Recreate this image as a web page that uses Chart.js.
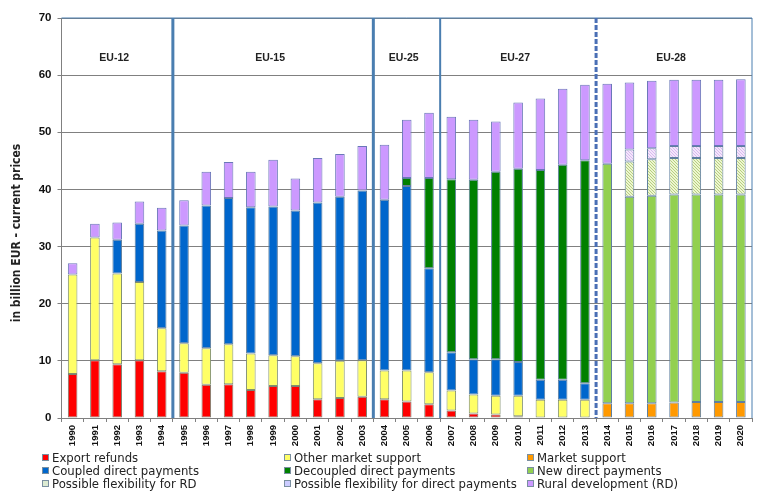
<!DOCTYPE html>
<html lang="en">
<head>
  <meta charset="UTF-8" />
  <title>CAP expenditure</title>
  <script src="https://cdn.jsdelivr.net/npm/chart.js"></script>
  <style>
    * { margin: 0; padding: 0; box-sizing: border-box; }
    html, body { width: 761px; height: 496px; background: #fff; overflow: hidden; }
    #wrap { position: relative; width: 761px; height: 496px; }
    canvas { display: block; }
    #legend {
      position: absolute;
      left: 42px;
      top: 451px;
      display: grid;
      grid-template-columns: 242px 243px 220px;
      grid-auto-rows: 13px;
      font: 11.7px 'DejaVu Sans', sans-serif;
      color: #222;
    }
    #legend div { display: flex; align-items: center; white-space: nowrap; }
    #legend i { display: block; width: 7px; height: 7px; margin-right: 3px; border: 1px solid #7a8fa0; }
  </style>
</head>
<body>
  <div id="wrap">
    <canvas id="chart" width="761" height="496"></canvas>
    <div id="legend"></div>
  </div>

  <script>
    const years = ['1990','1991','1992','1993','1994','1995','1996','1997','1998','1999','2000',
      '2001','2002','2003','2004','2005','2006','2007','2008','2009','2010','2011','2012','2013',
      '2014','2015','2016','2017','2018','2019','2020'];

    const exportRefunds = [7.7,10.1,9.4,10.1,8.2,7.9,5.8,5.9,4.9,5.6,5.6,3.3,3.5,3.7,3.3,2.9,2.4,1.3,0.8,0.6,0.3,0.1,0.1,null,
      null,null,null,null,null,null,null];
    const otherMarketSupport = [17.4,21.5,15.9,13.7,7.5,5.2,6.4,7.0,6.4,5.4,5.2,6.3,6.5,6.4,5.0,5.4,5.6,3.5,3.3,3.3,3.6,3.1,3.1,3.2,
      null,null,null,null,null,null,null];
    const marketSupport = [null,null,null,null,null,null,null,null,null,null,null,null,null,null,null,null,null,null,null,null,null,null,null,null,
      2.6,2.6,2.6,2.7,2.8,2.8,2.8];
    const coupledPayments = [null,null,5.9,10.2,17.1,20.6,25.0,25.6,25.6,26.0,25.5,28.1,28.7,29.7,29.9,32.3,18.2,6.7,6.2,6.4,5.9,3.5,3.5,2.9,
      null,null,null,null,null,null,null];
    const decoupledPayments = [null,null,null,null,null,null,null,null,null,null,null,null,null,null,null,
      1.4,15.8,30.3,31.4,32.8,33.8,36.7,37.6,39.0,
      null,null,null,null,null,null,null];
    const newPayments = [null,null,null,null,null,null,null,null,null,null,null,null,null,null,null,null,null,null,null,null,null,null,null,null,
      41.9,36.1,36.3,36.4,36.3,36.3,36.3];
    const flexForRd = [null,null,null,null,null,null,null,null,null,null,null,null,null,null,null,null,null,null,null,null,null,null,null,null,null,
      6.2,6.4,6.4,6.4,6.4,6.4];
    const flexForPayments = [null,null,null,null,null,null,null,null,null,null,null,null,null,null,null,null,null,null,null,null,null,null,null,null,null,
      2.1,1.9,2.1,2.1,2.1,2.1];
    const ruralDevelopment = [2.0,2.4,3.0,3.9,4.0,4.4,5.9,6.3,6.2,8.2,5.6,7.8,7.5,7.8,9.6,10.2,11.4,10.9,10.5,8.8,11.6,12.5,13.3,13.2,
      14.0,11.7,11.8,11.6,11.6,11.6,11.7];

    const eraNames = ['EU-12','EU-15','EU-25','EU-27','EU-28'];
    const eraFirstYears = ['1990','1995','2004','2007','2014'];
    const yTicks = [0,10,20,30,40,50,60,70];

    const axisGrey = '#808080';
    const frameBlue = '#4a7eb0';

    // diagonal stripes for the two "possible flexibility" series
    function stripes(back, line) {
      const c = document.createElement('canvas');
      c.width = 3;
      c.height = 3;
      const x = c.getContext('2d');
      x.fillStyle = back;
      x.fillRect(0, 0, 3, 3);
      x.fillStyle = line;
      x.fillRect(0, 0, 1, 1);
      x.fillRect(1, 1, 1, 1);
      x.fillRect(2, 2, 1, 1);
      return x.createPattern(c, 'repeat');
    }

    function bar(label, data, color, border) {
      return {
        label, data,
        backgroundColor: color,
        borderColor: border || '#5f7f9f',
        borderWidth: 1,
        borderSkipped: false,
        stack: 'cap',
        categoryPercentage: 1,
        barPercentage: 0.43
      };
    }

    const series = [
      bar('Export refunds', exportRefunds, '#ff0000', '#7f7f6f'),
      bar('Other market support', otherMarketSupport, '#ffff66', '#7f8f6f'),
      bar('Market support', marketSupport, '#ff9900'),
      bar('Coupled direct payments', coupledPayments, '#0066cc'),
      bar('Decoupled direct payments', decoupledPayments, '#008000'),
      bar('New direct payments', newPayments, '#92d050'),
      bar('Possible flexibility for RD', flexForRd, stripes('#eef5d0', '#b4d080')),
      bar('Possible flexibility for direct payments', flexForPayments, stripes('#f3e6fa', '#d8b8f0')),
      bar('Rural development (RD)', ruralDevelopment, '#cc99ff', '#6a78b8')
    ];

    // era separators, era names, the blue frame and the y axis title
    const decorations = {
      id: 'decorations',
      beforeDatasetsDraw(chart) {
        const { ctx, chartArea: a, scales: { x } } = chart;
        const half = (x.getPixelForTick(1) - x.getPixelForTick(0)) / 2;
        ctx.save();
        ctx.strokeStyle = frameBlue;
        ctx.lineWidth = 1;
        ctx.beginPath();
        ctx.moveTo(a.left, a.top); ctx.lineTo(a.right, a.top); ctx.lineTo(a.right, a.bottom);
        ctx.stroke();
        eraFirstYears.slice(1).forEach((year, i) => {
          const px = x.getPixelForTick(years.indexOf(year)) - half;
          const last = i === eraFirstYears.length - 2;
          ctx.lineWidth = i === 2 ? 2 : 3;
          ctx.strokeStyle = last ? '#4a6fb5' : frameBlue;
          ctx.setLineDash(last ? [5, 2] : []);
          ctx.beginPath();
          ctx.moveTo(px, a.top); ctx.lineTo(px, a.bottom);
          ctx.stroke();
        });
        ctx.restore();
      },
      afterDraw(chart) {
        const { ctx, chartArea: a, scales: { x, y } } = chart;
        const half = (x.getPixelForTick(1) - x.getPixelForTick(0)) / 2;
        ctx.save();
        ctx.fillStyle = '#222';
        ctx.font = 'bold 10.5px "Liberation Sans", sans-serif';
        ctx.textAlign = 'center';
        ctx.textBaseline = 'middle';
        eraNames.forEach((name, i) => {
          const from = x.getPixelForTick(years.indexOf(eraFirstYears[i])) - half;
          const to = i + 1 < eraNames.length
            ? x.getPixelForTick(years.indexOf(eraFirstYears[i + 1])) - half
            : a.right;
          ctx.fillText(name, (from + to) / 2 - 3, y.getPixelForValue(63));
        });
        ctx.font = 'bold 12px "DejaVu Sans Condensed", "DejaVu Sans", sans-serif';
        ctx.translate(17, 233);
        ctx.rotate(-Math.PI / 2);
        ctx.fillText('in billion EUR - current prices', 0, 0);
        ctx.restore();
      }
    };

    new Chart(document.getElementById('chart'), {
      type: 'bar',
      data: { labels: years, datasets: series },
      plugins: [decorations],
      options: {
        responsive: false,
        animation: false,
        layout: { padding: { top: 18, right: 9, bottom: 45, left: 0 } },
        plugins: { legend: { display: false }, tooltip: { enabled: false } },
        scales: {
          x: {
            stacked: true,
            afterFit(s) { s.height = 33; },
            grid: { drawOnChartArea: false, drawTicks: true, tickLength: 4, tickColor: axisGrey, offset: true },
            border: { color: axisGrey },
            ticks: {
              maxRotation: 90, minRotation: 90, autoSkip: false, padding: 3,
              color: '#111',
              font: { family: '"Liberation Sans", sans-serif', size: 9.5, weight: 'bold' }
            }
          },
          y: {
            stacked: true,
            min: 0,
            max: 70,
            afterFit(s) { s.width = 61.5; },
            afterBuildTicks(s) { s.ticks = yTicks.map(value => ({ value })); },
            grid: { color: axisGrey, tickColor: axisGrey, tickLength: 4, lineWidth: 1 },
            border: { color: axisGrey },
            ticks: {
              padding: 6,
              color: '#111',
              font: { family: '"Liberation Sans", sans-serif', size: 11.5, weight: 'bold' }
            }
          }
        }
      }
    });

    // legend below the plot, three columns, same order as the stack
    const legend = document.getElementById('legend');
    series.forEach(s => {
      const row = document.createElement('div');
      const mark = document.createElement('i');
      if (typeof s.backgroundColor === 'string') {
        mark.style.background = s.backgroundColor;
      } else {
        mark.style.background = s.label.includes('RD') ? '#dcebd2' : '#ccccff';
      }
      row.appendChild(mark);
      row.appendChild(document.createTextNode(s.label));
      legend.appendChild(row);
    });
  </script>
</body>
</html>
